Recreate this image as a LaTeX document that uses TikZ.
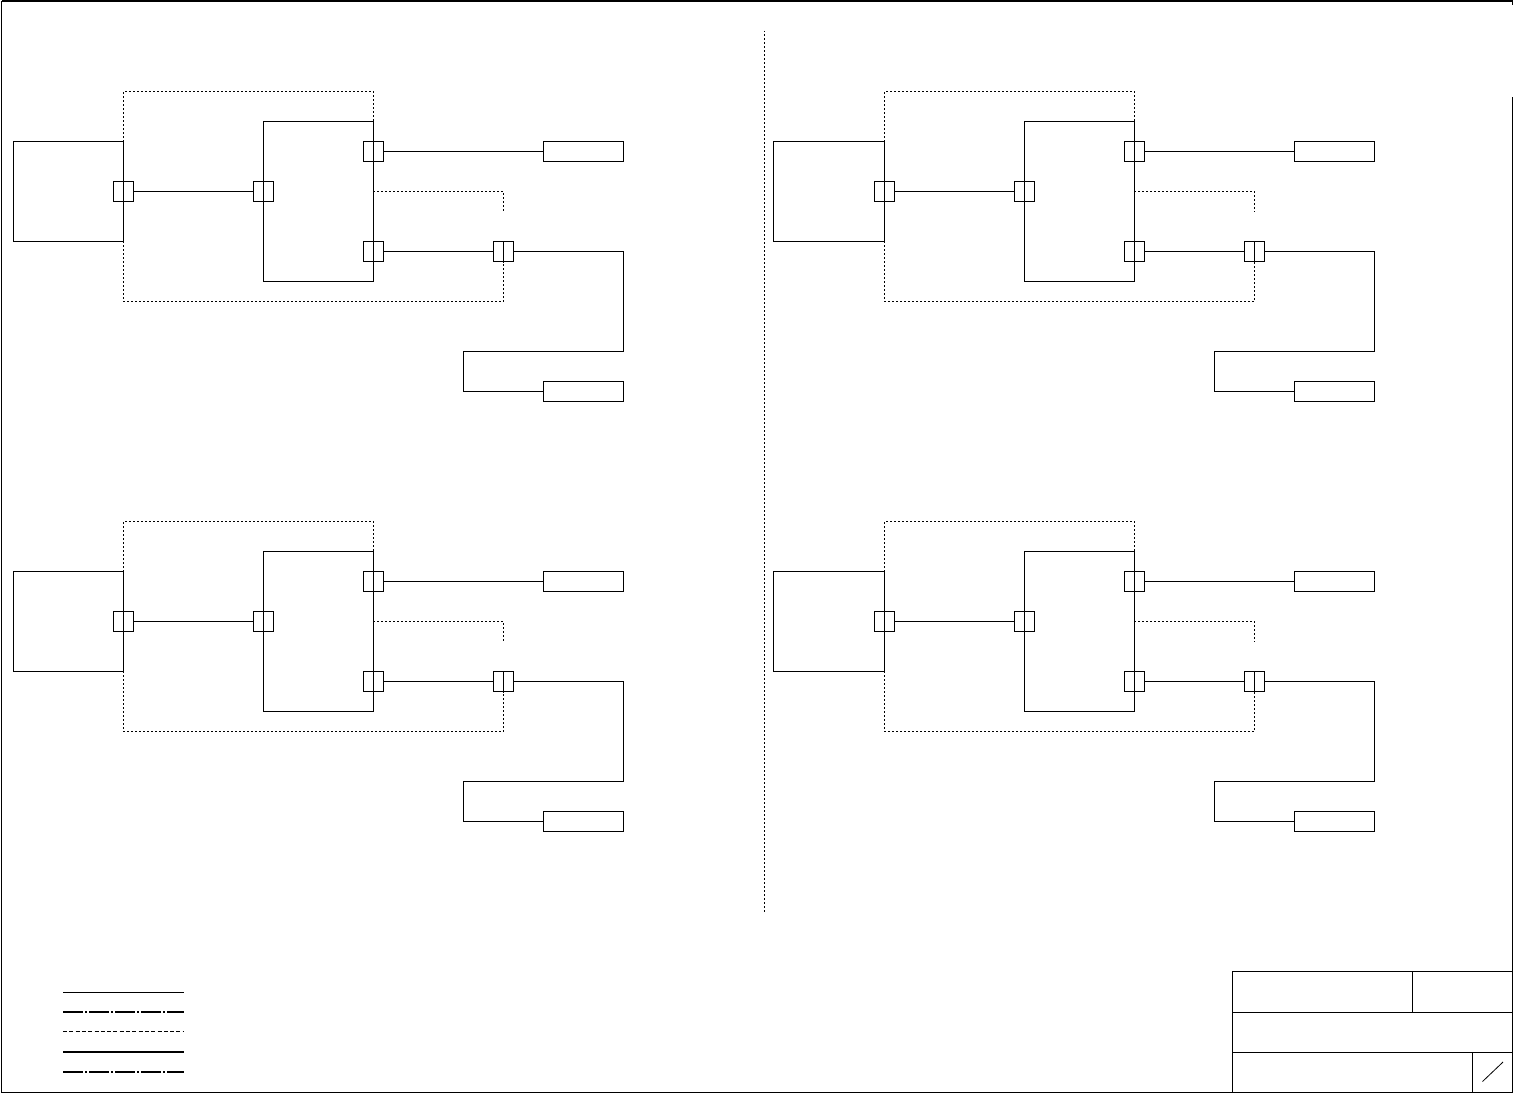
\documentclass[tikz,border=0pt]{standalone}
\tikzset{
  x=1pt,y=-1pt,
  wire/.style={line width=1pt,black},
  dots/.style={line width=1.1pt,black,dash pattern=on 2pt off 2pt,dash phase=0.5pt},
  boxn/.style={draw,line width=1pt,rectangle,inner sep=0pt,outer sep=0pt,anchor=north west},
  port/.style={draw,line width=1pt,rectangle,inner sep=0pt,outer sep=0pt,minimum width=20pt,minimum height=20pt},
  endbox/.style={boxn,minimum width=80pt,minimum height=20pt},
  leg/.style={black,line cap=butt},
  dashdot/.style={line width=2pt,dash pattern=on 20pt off 2pt on 2pt off 2pt},
  short/.style={line width=1pt,dash pattern=on 4pt off 2.3pt}
}
% #1 prefix, #2 left edge of source box, #3 its width, #4 x of dotted/left port, #5 x of junction port, #6 y offset
\newcommand{\panelgroup}[6]{%
  \begin{scope}[yshift=-#6pt]
  \node[boxn,minimum width=#3pt,minimum height=100pt] (#1src) at (#2,141.5) {};
  \node[boxn,minimum width=110pt,minimum height=160pt] (#1mid) at (#4+140,121.5) {};
  \node[port] (#1a) at (#4,191.5) {};
  \node[port] (#1b) at (#4+140,191.5) {};
  \node[port] (#1c) at (#4+250,151.5) {};
  \node[port] (#1d) at (#4+250,251.5) {};
  \node[port] (#1e) at (#5,251.5) {};
  \draw[wire] (#1e.north) -- (#1e.south);
  \node[endbox] (#1f) at (#5+40,141.5) {};
  \node[endbox] (#1g) at (#5+40,381.5) {};
  \coordinate (#1tl) at (#4,91.5);
  \coordinate (#1tr) at (#4+250,91.5);
  \coordinate (#1bc) at (#5,301.5);
  \coordinate (#1du) at (#5,191.5);
  \coordinate (#1dd) at (#5,211.5);
  \coordinate (#1r1) at (#5+120,351.5);
  \coordinate (#1r2) at (#5-40,351.5);
  \coordinate (#1ms) at (#4+250,191.5);
  \draw[wire] (#1a) -- (#1b);
  \draw[wire] (#1c) -- (#1f);
  \draw[wire] (#1d) -- (#1e);
  \draw[wire] (#1e.east) -| (#1r1) -- (#1r2) |- (#1g.west);
  \draw[dots] (#1src.north east) -- (#1tl) -- (#1tr) -- (#1mid.north east);
  \draw[dots] (#1src.south east) |- (#1bc) -- (#1e.south);
  \draw[dots] (#1ms) -- (#1du) -- (#1dd);
  \end{scope}%
}
\begin{document}
\begin{tikzpicture}
\useasboundingbox (0,0) rectangle (1514,1093);
\fill[white] (0,0) rectangle (1514,1093);
% sheet frame
\coordinate (ftl) at (1.5,1);
\coordinate (ftr) at (1512.5,1);
\coordinate (fts) at (1512.5,5);
\coordinate (frt) at (1512.5,97);
\coordinate (fbr) at (1512.5,1092.5);
\coordinate (fbl) at (1.5,1092.5);
\draw[line width=2.2pt] (ftl) -- (ftr);
\draw[line width=1pt] (ftr) -- (fts);
\draw[line width=1pt] (ftl) -- (fbl) -- (fbr) -- (frt);
% central divider
\coordinate (divt) at (764.5,30.5);
\coordinate (divb) at (764.5,913.5);
\draw[dots] (divt) -- (divb);
% panels
\panelgroup{p}{13.5}{110}{123.5}{503.5}{0}
\panelgroup{q}{773.5}{111}{884.5}{1254.5}{0}
\panelgroup{r}{13.5}{110}{123.5}{503.5}{430}
\panelgroup{s}{773.5}{111}{884.5}{1254.5}{430}
% legend
\foreach \n/\y in {a/992.5,b/1012,c/1031.5,d/1052,e/1072}{
  \coordinate (leg\n l) at (63,\y);
  \coordinate (leg\n r) at (183.5,\y);
}
\draw[leg,line width=1pt] (legal) -- (legar);
\draw[leg,dashdot] (legbl) -- (legbr);
\draw[leg,short] (legcl) -- (legcr);
\draw[leg,line width=2pt] (legdl) -- (legdr);
\draw[leg,dashdot] (legel) -- (leger);
% title block
\node[boxn,minimum width=280pt,minimum height=120.5pt] (tb) at (1232.5,971.5) {};
\coordinate (h1l) at (1232.5,1012);
\coordinate (h1r) at (1512.5,1012);
\coordinate (h2l) at (1232.5,1052);
\coordinate (h2r) at (1512.5,1052);
\coordinate (v1t) at (1412.5,971.5);
\coordinate (v1b) at (1412.5,1012);
\coordinate (v2t) at (1472.5,1052);
\coordinate (v2b) at (1472.5,1092);
\coordinate (sl1) at (1482.5,1081.5);
\coordinate (sl2) at (1503,1062);
\draw[wire] (h1l) -- (h1r);
\draw[wire] (h2l) -- (h2r);
\draw[wire] (v1t) -- (v1b);
\draw[wire] (v2t) -- (v2b);
\draw[line width=0.8pt] (sl1) -- (sl2);
\end{tikzpicture}
\end{document}
